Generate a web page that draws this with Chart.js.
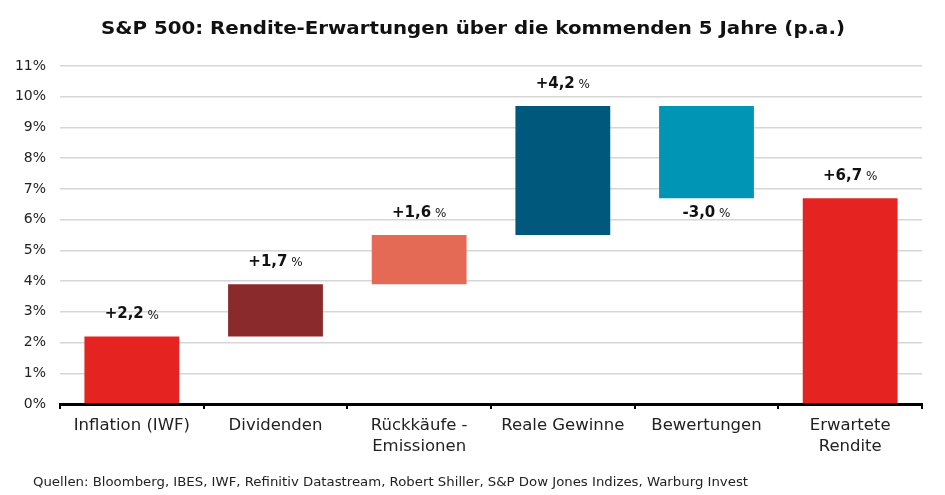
<!DOCTYPE html>
<html>
<head>
<meta charset="utf-8">
<script src="https://cdn.jsdelivr.net/npm/chart.js@4"></script>
<style>
  html, body { margin: 0; padding: 0; background: #fff; }
  #wrap { width: 945px; height: 495px; position: relative; }
</style>
</head>
<body>
<div id="wrap"><canvas id="chart"></canvas></div>
<script>
// --- DATA ---
const categories = ['Inflation (IWF)', 'Dividenden', ['Rückkäufe -', 'Emissionen'], 'Reale Gewinne', 'Bewertungen', ['Erwartete', 'Rendite']];
const barStarts = [0, 2.2, 3.9, 5.5, 9.7, 0];
const barEnds = [2.2, 3.9, 5.5, 9.7, 6.7, 6.7];
const valueLabels = ['+2,2', '+1,7', '+1,6', '+4,2', '-3,0', '+6,7'];
const barColors = ['#e52421', '#8b2a2d', '#e56a55', '#00587c', '#0094b5', '#e52421'];
const yTicks = [0, 1, 2, 3, 4, 5, 6, 7, 8, 9, 10, 11];

const titleText = 'S&P 500: Rendite-Erwartungen über die kommenden 5 Jahre (p.a.)';
const sourceText = 'Quellen: Bloomberg, IBES, IWF, Refinitiv Datastream, Robert Shiller, S&P Dow Jones Indizes, Warburg Invest';

const FONT = '"DejaVu Sans", sans-serif';

// squeeze or stretch a text to a target width
function fitText(ctx, text, x, y, width) {
    const w = ctx.measureText(text).width;
    ctx.save();
    ctx.translate(x, y);
    ctx.scale(width / w, 1);
    ctx.fillText(text, 0, 0);
    ctx.restore();
}

// title, footer and value labels
const textPlugin = {
    id: 'texts',
    afterDraw(chart) {
        const ctx = chart.ctx;
        ctx.save();
        ctx.fillStyle = '#111';
        ctx.textBaseline = 'middle';
        ctx.textAlign = 'left';
        ctx.font = 'bold 18px ' + FONT;
        fitText(ctx, titleText, 101, 29, 744);

        ctx.font = '12.5px ' + FONT;
        ctx.fillStyle = '#222';
        fitText(ctx, sourceText, 33, 483, 715);

        const meta = chart.getDatasetMeta(0);
        meta.data.forEach((bar, i) => {
            const neg = barEnds[i] < barStarts[i];
            const top = Math.min(bar.y, bar.base);
            const bottom = Math.max(bar.y, bar.base);
            const y = neg ? bottom + 15 : top - 22;
            ctx.font = 'bold 15px ' + FONT;
            const w1 = ctx.measureText(valueLabels[i]).width;
            ctx.font = '12px ' + FONT;
            const w2 = ctx.measureText(' %').width;
            let x = bar.x - (w1 + w2) / 2;
            ctx.fillStyle = '#111';
            ctx.font = 'bold 15px ' + FONT;
            ctx.fillText(valueLabels[i], x, y);
            ctx.font = '12px ' + FONT;
            ctx.fillText(' %', x + w1, y + 1);
        });
        ctx.restore();
    }
};

new Chart(document.getElementById('chart'), {
    type: 'bar',
    data: {
        labels: categories,
        datasets: [{
            data: barStarts.map((s, i) => [s, barEnds[i]]),
            backgroundColor: barColors,
            borderWidth: 0,
            barPercentage: 0.66,
            categoryPercentage: 1
        }]
    },
    options: {
        responsive: true,
        maintainAspectRatio: false,
        animation: false,
        layout: { padding: { top: 66, right: 23, bottom: 25, left: 0 } },
        plugins: {
            legend: { display: false },
            tooltip: { enabled: false },
            title: { display: false }
        },
        scales: {
            y: {
                min: 0,
                max: 11,
                afterBuildTicks: s => { s.ticks = yTicks.map(v => ({ value: v })); },
                afterFit: s => { s.width = 60; },
                border: { display: false },
                grid: { color: '#d6d6d6', lineWidth: 1.5, drawTicks: false },
                ticks: {
                    padding: 14,
                    color: '#222',
                    font: { family: FONT, size: 14 },
                    callback: v => v + '%'
                }
            },
            x: {
                afterFit: s => { s.height = 66; },
                border: { display: true, color: '#000', width: 3 },
                grid: { offset: true, drawOnChartArea: false, drawTicks: true, tickLength: 5, color: '#000', lineWidth: 2 },
                ticks: {
                    padding: 6,
                    color: '#222',
                    maxRotation: 0,
                    autoSkip: false,
                    font: { family: FONT, size: 16.5, lineHeight: 1.3 }
                }
            }
        }
    },
    plugins: [textPlugin]
});
</script>
</body>
</html>
